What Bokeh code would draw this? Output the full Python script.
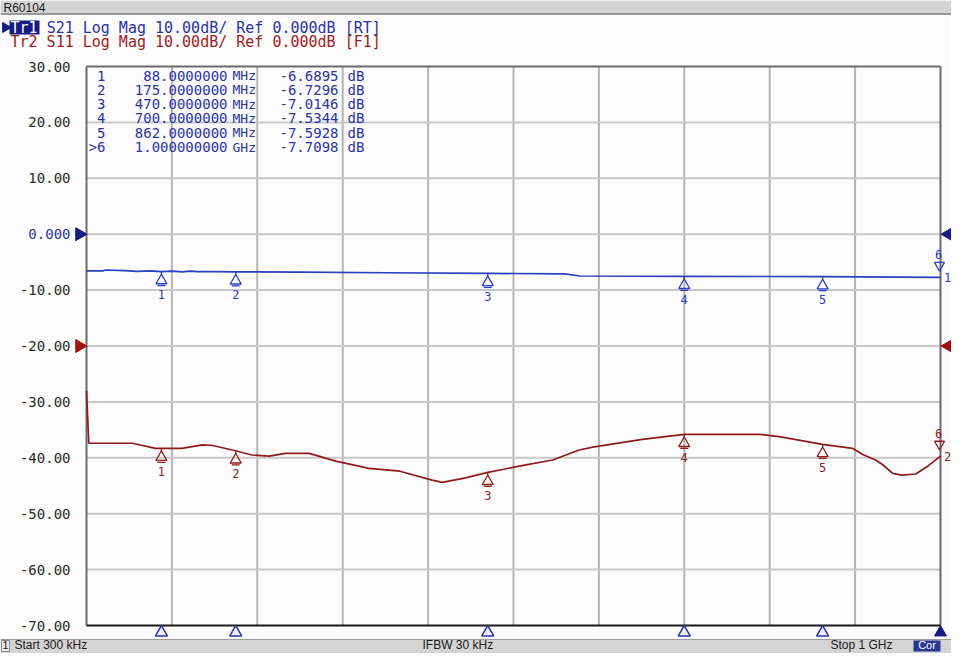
import numpy as np
from bokeh.plotting import figure
from bokeh.models import Range1d
from bokeh.core.properties import value
from bokeh.embed import file_html
from bokeh.resources import INLINE

# ---------------- data ----------------
START_MHZ = 0.3
STOP_MHZ = 1000.0
Y_TOP_DB = 30.0
Y_BOT_DB = -70.0
Y_TICKS = [30, 20, 10, 0, -10, -20, -30, -40, -50, -60, -70]
Y_TICK_LABELS = ["30.00", "20.00", "10.00", "0.000", "-10.00", "-20.00",
                 "-30.00", "-40.00", "-50.00", "-60.00", "-70.00"]
REF_POS_TR1 = 0.0
REF_POS_TR2 = -20.0

S21_FREQ = [0.3, 20, 23, 45, 60, 75, 88, 100, 112, 122, 130, 150, 175, 250,
            350, 470, 560, 578, 700, 862, 1000]
S21_DB = [-6.55, -6.55, -6.4, -6.5, -6.65, -6.55, -6.69, -6.6, -6.75, -6.6,
          -6.7, -6.68, -6.73, -6.8, -6.9, -7.01, -7.1, -7.48, -7.53, -7.59, -7.71]

S11_FREQ = [0.3, 3, 54, 81, 112, 136, 148, 171, 194, 214, 233, 261, 292, 331,
            367, 405, 417, 444, 470, 507, 546, 577, 593, 651, 700, 788, 811,
            862, 897, 909, 924, 932, 944, 955, 971, 985, 1000]
S11_DB = [-28.0, -37.4, -37.4, -38.3, -38.3, -37.7, -37.8, -38.6, -39.5, -39.7,
          -39.2, -39.2, -40.6, -41.9, -42.4, -44.0, -44.4, -43.6, -42.6, -41.5,
          -40.4, -38.6, -38.1, -36.7, -35.8, -35.8, -36.2, -37.6, -38.3, -39.4,
          -40.4, -41.2, -42.8, -43.1, -42.9, -41.5, -39.7]

MARKER_ID = ["1", "2", "3", "4", "5", "6"]
MARKER_TABLE_ID = ["1", "2", "3", "4", "5", ">6"]
MARKER_FREQ = [88, 175, 470, 700, 862, 1000]
MARKER_S21 = [-6.6895, -6.7296, -7.0146, -7.5344, -7.5928, -7.7098]

HEADER_TR1 = "S21 Log Mag 10.00dB/ Ref 0.000dB [RT]"
HEADER_TR2 = "Tr2 S11 Log Mag 10.00dB/ Ref 0.000dB [F1]"
TITLE = "R60104"
STATUS_START = "Start 300 kHz"
STATUS_IFBW = "IFBW 30 kHz"
STATUS_STOP = "Stop 1 GHz"

# ---------------- layout (page pixels) ----------------
W, H = 951, 653
PAGE_OFF = 8
PX_L, PX_R, PY_T, PY_B = 94, 948, 74, 633
MPP = (STOP_MHZ - START_MHZ) / (PX_R - PX_L)     # MHz per pixel
DPP = (Y_TOP_DB - Y_BOT_DB) / (PY_B - PY_T)      # dB per pixel


def X(px):
    return START_MHZ + (px - PX_L) * MPP


def Y(py):
    return Y_TOP_DB - (py - PY_T) * DPP


BLUE_TXT = "#2a34a6"
BLUE_TRACE = "#2b3fbf"
NAVY = "#161c82"
RED_TXT = "#a01c1c"
RED_TRACE = "#8e1b1b"
MONO = value("DejaVu Sans Mono")
SANS = value("Liberation Sans")

p = figure(width=W, height=H,
           x_range=Range1d(X(PAGE_OFF), X(PAGE_OFF + W)),
           y_range=Range1d(Y(PAGE_OFF + H), Y(PAGE_OFF)),
           output_backend="svg", toolbar_location=None,
           x_axis_type=None, y_axis_type=None, min_border=0,
           outline_line_color=None, background_fill_color="#fbfcfb",
           border_fill_color="#fbfcfb")

# top title bar
p.quad(left=[X(PAGE_OFF)], right=[X(PAGE_OFF + W)], top=[Y(PAGE_OFF)], bottom=[Y(21)],
       fill_color="#d4d4d4", line_color=None)
p.segment(x0=[X(PAGE_OFF)], y0=[Y(21.5)], x1=[X(PAGE_OFF + W)], y1=[Y(21.5)],
          line_color="#7a7a7a", line_width=1.5)
p.text(x=[X(11)], y=[Y(15)], text=[TITLE], text_font=SANS, text_font_size="12px",
       text_color="#1a1a1a", text_baseline="middle", text_align="left")

# header trace lines
CW = 0.6021 * 15
p.scatter(x=[X(13)], y=[Y(35)], marker="triangle", angle=-np.pi / 2, size=10,
          fill_color=NAVY, line_color=NAVY)
p.quad(left=[X(17)], right=[X(47)], top=[Y(28)], bottom=[Y(42)], fill_color=NAVY, line_color=None)
p.text(x=[X(18)], y=[Y(35)], text=["Tr1"], text_font=MONO, text_font_size="15px",
       text_color="white", text_baseline="middle")
p.text(x=[X(18 + 4 * CW)], y=[Y(35)], text=[HEADER_TR1], text_font=MONO,
       text_font_size="15px", text_color=BLUE_TXT, text_baseline="middle")
p.text(x=[X(18)], y=[Y(49)], text=[HEADER_TR2], text_font=MONO,
       text_font_size="15px", text_color=RED_TXT, text_baseline="middle")

# grid
xg = [START_MHZ + k * (STOP_MHZ - START_MHZ) / 10 for k in range(1, 10)]
p.segment(x0=xg, y0=[Y_BOT_DB] * 9, x1=xg, y1=[Y_TOP_DB] * 9, line_color="#b4b4b4", line_width=2)
yg = Y_TICKS[1:-1]
p.segment(x0=[START_MHZ] * len(yg), y0=yg, x1=[STOP_MHZ] * len(yg), y1=yg,
          line_color="#c8c8c8", line_width=2)

# frame
p.segment(x0=[START_MHZ, START_MHZ, STOP_MHZ], y0=[Y_TOP_DB, Y_BOT_DB, Y_BOT_DB],
          x1=[STOP_MHZ, START_MHZ, STOP_MHZ], y1=[Y_TOP_DB, Y_TOP_DB, Y_TOP_DB],
          line_color="#6a6a6a", line_width=2)
p.segment(x0=[START_MHZ], y0=[Y_BOT_DB], x1=[STOP_MHZ], y1=[Y_BOT_DB],
          line_color="#1a1a1a", line_width=2)

# y tick labels
tick_colors = [BLUE_TXT if t == 0 else "#2a2a2a" for t in Y_TICKS]
p.text(x=[X(78)] * len(Y_TICKS), y=Y_TICKS, text=Y_TICK_LABELS, text_font=MONO,
       text_font_size="14px", text_color=tick_colors, text_align="right",
       text_baseline="middle")

# reference position triangles
p.scatter(x=[X(87), X(87)], y=[REF_POS_TR1, REF_POS_TR2], marker="triangle",
          angle=-np.pi / 2, size=13, fill_color=[NAVY, "#a01010"], line_color=[NAVY, "#a01010"])
p.scatter(x=[X(956), X(956)], y=[REF_POS_TR1, REF_POS_TR2], marker="triangle",
          angle=np.pi / 2, size=13, fill_color=[NAVY, "#a01010"], line_color=[NAVY, "#a01010"])

# traces
p.line(S21_FREQ, S21_DB, line_color=BLUE_TRACE, line_width=1.7)
p.line(S11_FREQ, S11_DB, line_color=RED_TRACE, line_width=1.7)

# marker table
for i, (mid, f, v) in enumerate(zip(MARKER_TABLE_ID, MARKER_FREQ, MARKER_S21)):
    yy = Y(83 + i * 14.3)
    if f < 1000:
        ftxt, unit = f"{f:.7f}", "MHz"
    else:
        ftxt, unit = f"{f / 1000:.9f}", "GHz"
    p.text(x=[X(113)], y=[yy], text=[mid], text_font=MONO, text_font_size="14px",
           text_color=BLUE_TXT, text_align="right", text_baseline="middle")
    p.text(x=[X(235)], y=[yy], text=[ftxt], text_font=MONO, text_font_size="14px",
           text_color=BLUE_TXT, text_align="right", text_baseline="middle")
    p.text(x=[X(240)], y=[yy], text=[unit], text_font=MONO, text_font_size="13px",
           text_color=BLUE_TXT, text_align="left", text_baseline="middle")
    p.text(x=[X(346)], y=[yy], text=[f"{v:.4f}"], text_font=MONO, text_font_size="14px",
           text_color=BLUE_TXT, text_align="right", text_baseline="middle")
    p.text(x=[X(355)], y=[yy], text=["dB"], text_font=MONO, text_font_size="14px",
           text_color=BLUE_TXT, text_align="left", text_baseline="middle")

# markers on traces
s11_mk = list(np.interp(MARKER_FREQ, S11_FREQ, S11_DB))
for vals, col in ((MARKER_S21, BLUE_TRACE), (s11_mk, RED_TRACE)):
    fx5 = MARKER_FREQ[:5]
    v5 = vals[:5]
    p.segment(x0=fx5, y0=v5, x1=fx5, y1=[v - 3 * DPP for v in v5], line_color=col, line_width=1.3)
    p.scatter(x=fx5, y=[v - 9 * DPP for v in v5], marker="triangle", size=11,
              fill_color=None, line_color=col, line_width=1.3)
    p.segment(x0=[f - 4 * MPP for f in fx5], y0=[v - 14 * DPP for v in v5],
              x1=[f + 4 * MPP for f in fx5], y1=[v - 14 * DPP for v in v5],
              line_color=col, line_width=1.3)
    p.text(x=fx5, y=[v - 23 * DPP for v in v5], text=MARKER_ID[:5], text_font=MONO,
           text_font_size="12px", text_color=col, text_align="center", text_baseline="middle")
    # active marker 6 (above the trace)
    f6, v6 = MARKER_FREQ[5], vals[5]
    p.scatter(x=[f6 - 1 * MPP], y=[v6 + 12 * DPP], marker="inverted_triangle", size=10,
              fill_color=None, line_color=col, line_width=1.3)
    p.text(x=[f6 - 2 * MPP], y=[v6 + 23 * DPP], text=[MARKER_ID[5]], text_font=MONO,
           text_font_size="12px", text_color=col, text_align="center", text_baseline="middle")
p.text(x=[MARKER_FREQ[5] + 7 * MPP] * 2, y=[MARKER_S21[5], s11_mk[5]], text=["1", "2"],
       text_font=MONO, text_font_size="12px", text_color=[BLUE_TRACE, RED_TRACE],
       text_align="center", text_baseline="middle")

# marker triangles below the graticule
p.scatter(x=MARKER_FREQ[:5], y=[Y(640)] * 5, marker="triangle", size=12,
          fill_color="#eef0ff", line_color=BLUE_TXT, line_width=1.5)
p.scatter(x=[MARKER_FREQ[5]], y=[Y(640)], marker="triangle", size=12,
          fill_color=NAVY, line_color=NAVY)

# status bar
SB_TOP = 647
SB_MID = 652.5
p.quad(left=[X(PAGE_OFF)], right=[X(PAGE_OFF + W)], top=[Y(SB_TOP)], bottom=[Y(PAGE_OFF + H)],
       fill_color="#d4d4d4", line_color=None)
p.segment(x0=[X(PAGE_OFF)], y0=[Y(SB_TOP)], x1=[X(PAGE_OFF + W)], y1=[Y(SB_TOP)],
          line_color="#9a9a9a", line_width=1)
p.quad(left=[X(9)], right=[X(17)], top=[Y(SB_TOP + 1)], bottom=[Y(659)], fill_color="#ececec",
       line_color="#8a8a8a", line_width=1)
p.text(x=[X(13)], y=[Y(SB_MID)], text=["1"], text_font=SANS, text_font_size="11px",
       text_color="#1a1a1a", text_align="center", text_baseline="middle")
p.text(x=[X(22), X(430), X(838)], y=[Y(SB_MID)] * 3, text=[STATUS_START, STATUS_IFBW, STATUS_STOP],
       text_font=SANS, text_font_size="12px", text_color="#1a1a1a", text_baseline="middle")
p.quad(left=[X(921)], right=[X(948)], top=[Y(SB_TOP + 1)], bottom=[Y(659)], fill_color="#2a3890",
       line_color=None)
p.text(x=[X(934.5)], y=[Y(SB_MID)], text=["Cor"], text_font=SANS, text_font_size="11px",
       text_color="white", text_align="center", text_baseline="middle")

open("out.html", "w").write(file_html(p, INLINE))
